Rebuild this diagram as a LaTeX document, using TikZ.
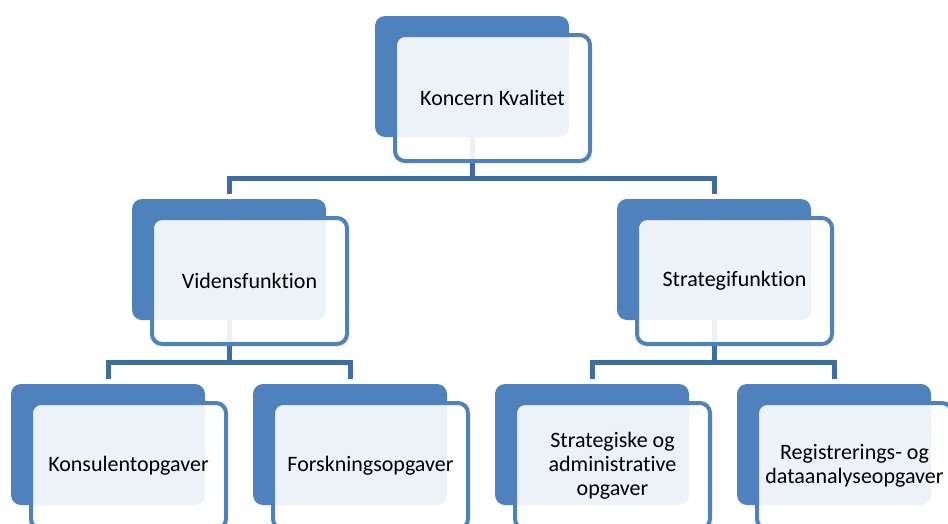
\documentclass[tikz,border=0pt]{standalone}
\usepackage{fontspec}
\setmainfont[Ligatures=NoCommon]{Carlito}
\definecolor{boxblue}{HTML}{4F81BD}
\definecolor{connblue}{HTML}{3F6CA3}
\begin{document}
\begin{tikzpicture}[x=1pt,y=-1pt,
  backbox/.style={fill=boxblue, draw=none, rounded corners=10pt, minimum width=194pt, minimum height=121pt, inner sep=0pt},
  frontbox/.style={draw=boxblue, line width=4pt, fill=white, fill opacity=0.9, text opacity=1, text=black, rounded corners=10pt, minimum width=195pt, minimum height=126pt, inner sep=0pt, align=center, font=\fontsize{22}{24}\selectfont},
  conn/.style={draw=connblue, line width=5pt}]
\useasboundingbox (0,0) rectangle (948,523);
\clip (0,0) rectangle (948,523);
% back rectangles
\node[backbox] (topB) at (472,76.5) {};
\node[backbox] (vidB) at (229,259.5) {};
\node[backbox] (strB) at (714,259.5) {};
\node[backbox] (konB) at (108,444.5) {};
\node[backbox] (forB) at (350,444.5) {};
\node[backbox] (sadB) at (592,444.5) {};
\node[backbox] (regB) at (834,444.5) {};
% connectors
\coordinate (bus1) at (472,178);
\coordinate (bus2) at (229,362);
\coordinate (bus3) at (714,362);
\draw[conn] (topB.south) -- (bus1);
\draw[conn, shorten >=5pt] (bus1) -| (vidB.north);
\draw[conn, shorten >=5pt] (bus1) -| (strB.north);
\draw[conn] (vidB.south) -- (bus2);
\draw[conn, shorten >=5pt] (bus2) -| (konB.north);
\draw[conn, shorten >=5pt] (bus2) -| (forB.north);
\draw[conn] (strB.south) -- (bus3);
\draw[conn, shorten >=5pt] (bus3) -| (sadB.north);
\draw[conn, shorten >=5pt] (bus3) -| (regB.north);
% front rectangles with text
\node[frontbox] (topF) at (492.5,98) {Koncern Kvalitet};
\node[frontbox] (vidF) at (249.5,281) {Vidensfunktion};
\node[frontbox] (strF) at (734.5,281) {Strategifunktion};
\node[frontbox] (konF) at (128.5,466) {Konsulentopgaver};
\node[frontbox] (forF) at (370.5,466) {Forskningsopgaver};
\node[frontbox] (sadF) at (612.5,466) {Strategiske og\\administrative\\opgaver};
\node[frontbox] (regF) at (854.5,466) {Registrerings- og\\dataanalyseopgaver};
\end{tikzpicture}
\end{document}
